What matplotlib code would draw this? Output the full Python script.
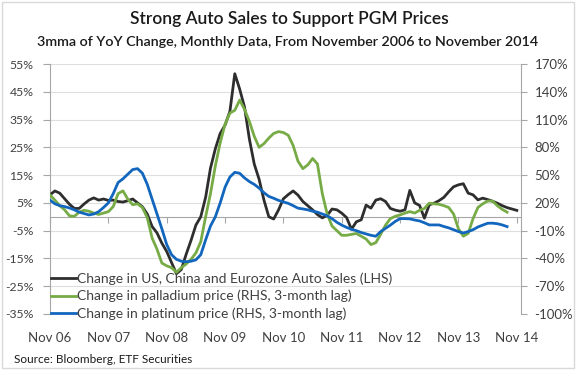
import matplotlib
matplotlib.use("Agg")
import matplotlib.pyplot as plt
from matplotlib.patches import Rectangle
import numpy as np

plt.rcParams['font.family'] = ['Lato', 'DejaVu Sans']

# ---- data (monthly, starting Nov 2006) ----
auto_sales = [7.9, 9.3, 8.5, 6.5, 4.5, 3.0, 3.0, 4.6, 6.0, 6.8, 6.0, 6.4, 5.9, 6.0, 5.5, 5.3,
              5.8, 6.4, 5.0, 3.6, 1.0, -3.5, -5.8, -9.5, -12.5, -16.5, -20.5, -19.0, -13.5, -8.5,
              -3.0, 0.0, 7.0, 17.5, 24.5, 30.0, 33.0, 38.0, 51.5, 46.0, 39.5, 28.0, 19.0, 13.5,
              6.0, 0.0, -0.8, 2.5, 6.5, 8.0, 9.3, 7.8, 5.5, 4.0, 2.5, 0.8, -0.4, 0.5, 2.8, 2.5,
              1.3, -0.3, -4.5, -1.8, -1.1, 4.2, 3.1, 6.0, 6.5, 5.5, 3.0, 2.4, 2.0, 2.5, 9.5, 5.0,
              4.1, -0.5, 4.3, 4.9, 5.8, 7.0, 9.0, 10.8, 11.5, 11.9, 8.5, 7.9, 6.1, 6.7, 6.2, 5.6,
              4.9, 4.0, 3.3, 2.8, 2.3]
palladium = [28.6, 23, 17, 12.5, 6, 5.5, 10, 12, 11, 9, 7.5, 9, 10.5, 16, 30, 33, 24, 18, 19,
             15, 4, -18, -30, -45, -48, -50, -55, -50, -46, -41, -34, -22, 5, 30, 60, 85, 105,
             117, 120, 131, 121, 108, 92, 80, 84, 90, 95, 97, 96, 93, 82, 65, 57, 61, 68, 62,
             30, 8, -5, -10, -15, -15, -14, -13, -16, -19, -25, -23, -14, -4, 3, 5.5, 7, 9,
             10.6, 9, 12, 14, 19.7, 19, 18.5, 17, 15, 8, -8, -16, -13, 3, 15, 19, 22, 22, 17,
             13, 10]
platinum = [23, 19, 17, 16, 14.5, 12.5, 10, 8.5, 7, 8, 10.5, 15, 20, 30, 42, 46, 51, 56, 57,
            52, 40, 24, 8, -8, -25, -36, -41, -43, -43.5, -43, -41.5, -36, -20, -5, 5, 20, 37,
            48, 53, 52, 47, 43, 40, 36, 31, 27, 25, 22.7, 21, 19.5, 17, 14.3, 13.5, 12.5, 11,
            10, 8, 6, 3, -1, -4, -6.5, -8.5, -10, -12, -13.5, -15, -16, -11, -7.5, -4, 0, 3,
            3, 2.7, 1.5, 0.5, -1.5, -3.8, -3.8, -3.8, -5.5, -7, -9, -11, -12.5, -11, -9, -6,
            -4, -2, -1.9, -2.5, -3.8, -5.6]
year_labels = ['Nov 06', 'Nov 07', 'Nov 08', 'Nov 09', 'Nov 10', 'Nov 11', 'Nov 12',
               'Nov 13', 'Nov 14']
series_labels = ['Change in US, China and Eurozone Auto Sales (LHS)',
                 'Change in palladium price (RHS, 3-month lag)',
                 'Change in platinum price (RHS, 3-month lag)']

c_black = '#2e2e2e'
c_green = '#77ab46'
c_blue = '#1266bd'
grey_axis = '#a6a6a6'
txt = '#404040'

fig = plt.figure(figsize=(5.77, 3.73), dpi=100)
fig.patches.append(Rectangle((0.004, 0.013), 0.991, 0.982, transform=fig.transFigure,
                             fill=False, edgecolor='#d9d9d9', lw=1.0))

ax = fig.add_axes([0.0867, 0.1582, 0.8157, 0.6702])
ax2 = ax.twinx()

x_auto = np.arange(len(auto_sales))
x_pd = np.arange(len(palladium))
x_pt = np.arange(len(platinum))

l1, = ax.plot(x_auto, auto_sales, color=c_black, lw=2.0, zorder=3)
l2, = ax2.plot(x_pd, palladium, color=c_green, lw=2.0, zorder=3)
l3, = ax2.plot(x_pt, platinum, color=c_blue, lw=2.0, zorder=4)

ax.set_xlim(0, 96.8)
ax.set_ylim(-35, 55)
ax2.set_ylim(-100, 170)
ax.set_yticks(np.arange(-35, 56, 10))
ax.set_yticklabels([f'{v}%' for v in range(-35, 56, 10)])
ax2.set_yticks(np.arange(-100, 171, 30))
ax2.set_yticklabels([f'{v}%' for v in range(-100, 171, 30)])

ax.grid(axis='y', color='#dedede', lw=0.8, zorder=0)
ax.set_axisbelow(True)

for a in (ax, ax2):
    a.spines['top'].set_visible(False)
ax.spines['right'].set_visible(False)
ax2.spines['bottom'].set_visible(False)
ax2.spines['left'].set_visible(False)
ax.spines['left'].set_color(grey_axis)
ax2.spines['right'].set_color(grey_axis)

ax.spines['bottom'].set_position(('data', 0))
ax.spines['bottom'].set_color(grey_axis)
ax.set_xticks(np.arange(0, 97, 12))
ax.tick_params(axis='x', direction='out', length=4, color=grey_axis, labelbottom=False)
ax.tick_params(axis='y', direction='out', length=5, color=grey_axis, labelsize=8.8,
               labelcolor=txt, pad=7)
ax2.tick_params(axis='y', direction='out', length=4, color=grey_axis, labelsize=9.5,
                labelcolor=txt, pad=6)

sec = ax.secondary_xaxis('bottom')
sec.set_xticks(np.arange(0, 97, 12))
sec.set_xticklabels(year_labels)
sec.spines['bottom'].set_visible(False)
sec.tick_params(axis='x', length=0, labelsize=9.5, labelcolor=txt, pad=13)

leg = ax.legend([l1, l2, l3], series_labels, loc='lower left', bbox_to_anchor=(0.002, -0.025),
                frameon=False, fontsize=10, handlelength=1.8, handletextpad=0.1,
                labelspacing=0.38, borderpad=0, borderaxespad=0)
for t in leg.get_texts():
    t.set_color(txt)
leg.set_zorder(10)

fig.text(0.502, 0.950, 'Strong Auto Sales to Support PGM Prices', ha='center', va='center',
         fontsize=12.5, fontweight='semibold', color='#1a1a1a')
fig.text(0.498, 0.887, '3mma of YoY Change, Monthly Data, From November 2006 to November 2014',
         ha='center', va='center', fontsize=10.3, fontweight='semibold', color='#1a1a1a')
fig.text(0.025, 0.037, 'Source: Bloomberg, ETF Securities', ha='left', va='center',
         fontsize=8.5, color='#1a1a1a')

fig.savefig('out.png', dpi=100)
